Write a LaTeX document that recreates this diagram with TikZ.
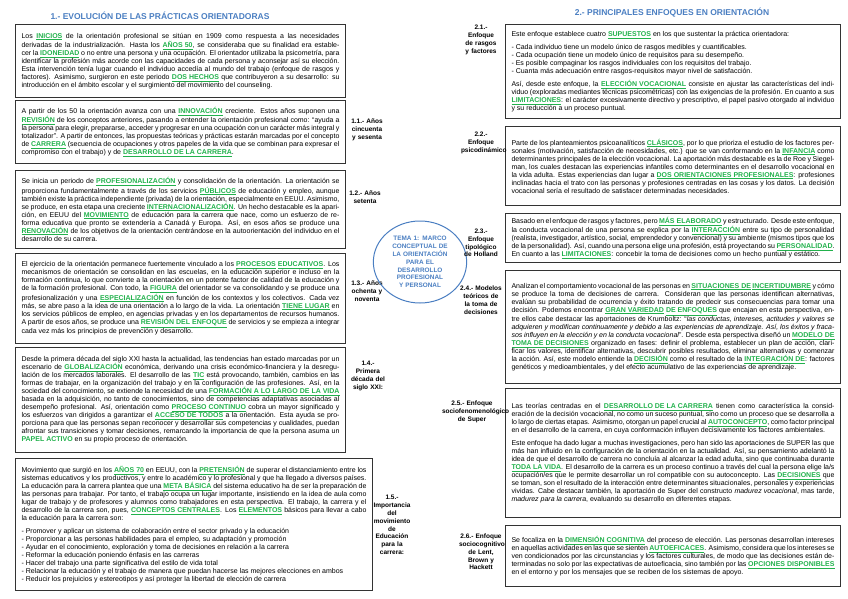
\documentclass[tikz,border=0pt]{standalone}
\usepackage{fontspec}
\setmainfont{Liberation Sans}
\usetikzlibrary{shapes.geometric}
\definecolor{kwg}{RGB}{34,177,76}
\definecolor{ttl}{RGB}{74,126,193}
\newcommand{\kw}[1]{\textcolor{kwg}{\textbf{\underline{#1}}}}
\newcommand{\kn}[1]{\textcolor{kwg}{\textbf{#1}}}
\newcommand{\nohyph}{\hyphenpenalty10000\exhyphenpenalty10000\relax}
\tikzset{
 box/.style={draw=black!80,line width=1pt,anchor=north west,align=justify,inner xsep=6pt,inner ysep=3pt,font=\fontsize{7}{8}\selectfont},
 lbl/.style={align=center,font=\fontsize{6.5}{7.8}\selectfont\bfseries\nohyph,text width=#1},
 lbl/.default=40pt,
 ttlsty/.style={font=\fontsize{8.5}{10}\selectfont\bfseries,text=ttl}
}
\begin{document}
\begin{tikzpicture}[x=1pt,y=-1pt]
\useasboundingbox (0,0) rectangle (848,599);
\node[ttlsty] (t1) at (160,16) {1.- EVOLUCIÓN DE LAS PRÁCTICAS ORIENTADORAS};
\node[ttlsty] (t2) at (672,13) {2.- PRINCIPALES ENFOQUES EN ORIENTACIÓN};

\node[box,text width=318pt,minimum height=73pt] (b1) at (15,24) {Los \kw{INICIOS} de la orientación profesional se sitúan en 1909 como respuesta a las necesidades derivadas de la industrialización. Hasta los \kw{AÑOS 50}, se consideraba que su finalidad era establecer la \kw{IDONEIDAD} o no entre una persona y una ocupación. El orientador utilizaba la psicometría, para identificar la profesión más acorde con las capacidades de cada persona y aconsejar así su elección. Esta intervención tenía lugar cuando el individuo accedía al mundo del trabajo (enfoque de rasgos y factores). Asimismo, surgieron en este periodo \kw{DOS HECHOS} que contribuyeron a su desarrollo: su introducción en el ámbito escolar y el surgimiento del movimiento del counseling.};
\node[box,text width=318pt,minimum height=63pt] (b2) at (15,100) {A partir de los 50 la orientación avanza con una \kw{INNOVACIÓN} creciente. Estos años suponen una \kw{REVISIÓN} de los conceptos anteriores, pasando a entender la orientación profesional como: “ayuda a la persona para elegir, prepararse, acceder y progresar en una ocupación con un carácter más integral y totalizador”. A partir de entonces, las propuestas teóricas y prácticas estarán marcadas por el concepto de \kw{CARRERA} (secuencia de ocupaciones y otros papeles de la vida que se combinan para expresar el compromiso con el trabajo) y de \kw{DESARROLLO DE LA CARRERA}.};
\node[box,text width=318pt,minimum height=78pt] (b3) at (15,170) {Se inicia un periodo de \kw{PROFESIONALIZACIÓN} y consolidación de la orientación. La orientación se proporciona fundamentalmente a través de los servicios \kw{PÚBLICOS} de educación y empleo, aunque también existe la práctica independiente (privada) de la orientación, especialmente en EEUU. Asimismo, se produce, en esta etapa una creciente \kw{INTERNACIONALIZACIÓN}. Un hecho destacable es la aparición, en EEUU del \kw{MOVIMIENTO} de educación para la carrera que nace, como un esfuerzo de reforma educativa que pronto se extendería a Canadá y Europa. Así, en esos años se produce una \kw{RENOVACIÓN} de los objetivos de la orientación centrándose en la autoorientación del individuo en el desarrollo de su carrera.};
\node[box,text width=318pt,minimum height=90pt] (b4) at (15,253) {El ejercicio de la orientación permanece fuertemente vinculado a los \kw{PROCESOS} \kw{EDUCATIVOS}. Los mecanismos de orientación se consolidan en las escuelas, en la educación superior e incluso en la formación continua, lo que convierte a la orientación en un potente factor de calidad de la educación y de la formación profesional. Con todo, la \kw{FIGURA} del orientador se va consolidando y se produce una profesionalización y una \kw{ESPECIALIZACIÓN} en función de los contextos y los colectivos. Cada vez más, se abre paso a la idea de una orientación a lo largo de la vida. La orientación \kw{TIENE LUGAR} en los servicios públicos de empleo, en agencias privadas y en los departamentos de recursos humanos. A partir de esos años, se produce una \kw{REVISIÓN DEL ENFOQUE} de servicios y se empieza a integrar cada vez más los principios de prevención y desarrollo.};
\node[box,text width=318pt,minimum height=105pt] (b5) at (15,347) {Desde la primera década del siglo XXI hasta la actualidad, las tendencias han estado marcadas por un escenario de \kw{GLOBALIZACIÓN} económica, derivando una crisis económico-financiera y la desregulación de los mercados laborales. El desarrollo de las \kw{TIC} está provocando, también, cambios en las formas de trabajar, en la organización del trabajo y en la configuración de las profesiones. Así, en la sociedad del conocimiento, se extiende la necesidad de una \kw{FORMACIÓN A LO LARGO DE LA VIDA} basada en la adquisición, no tanto de conocimientos, sino de competencias adaptativas asociadas al desempeño profesional. Así, orientación como \kw{PROCESO CONTINUO} cobra un mayor significado y los esfuerzos van dirigidos a garantizar el \kw{ACCESO DE TODOS} a la orientación. Esta ayuda se proporciona para que las personas sepan reconocer y desarrollar sus competencias y cualidades, puedan afrontar sus transiciones y tomar decisiones, remarcando la importancia de que la persona asuma un \kn{PAPEL ACTIVO} en su propio proceso de orientación.};
\node[box,text width=345pt,minimum height=132pt] (b6) at (15,458) {Movimiento que surgió en los \kw{AÑOS 70} en EEUU, con la \kw{PRETENSIÓN} de superar el distanciamiento entre los sistemas educativos y los productivos, y entre lo académico y lo profesional y que ha llegado a diversos países. La educación para la carrera plantea que una \kw{META BÁSICA} del sistema educativo ha de ser la preparación de las personas para trabajar. Por tanto, el trabajo ocupa un lugar importante, insistiendo en la idea de aula como lugar de trabajo y de profesores y alumnos como trabajadores en esta perspectiva. El trabajo, la carrera y el desarrollo de la carrera son, pues, \kw{CONCEPTOS CENTRALES}. Los \kw{ELEMENTOS} básicos para llevar a cabo la educación para la carrera son:\par\vspace{5pt}
{\raggedright - Promover y aplicar un sistema de colaboración entre el sector privado y la educación\\
- Proporcionar a las personas habilidades para el empleo, su adaptación y promoción\\
- Ayudar en el conocimiento, exploración y toma de decisiones en relación a la carrera\\
- Reformar la educación poniendo énfasis en las carreras\\
- Hacer del trabajo una parte significativa del estilo de vida total\\
- Relacionar la educación y el trabajo de manera que puedan hacerse las mejores elecciones en ambos\\
- Reducir los prejuicios y estereotipos y así proteger la libertad de elección de carrera\par}};

\node[lbl] (l1) at (367,130) {1.1.- Años cincuenta y sesenta};
\node[lbl] (l2) at (365,197) {1.2.- Años setenta};
\node[lbl] (l3) at (367,291) {1.3.- Años ochenta y noventa};
\node[lbl=34pt] (l4) at (368,376) {1.4.- Primera década del siglo XXI:};
\node[lbl=42pt] (l5) at (392,525) {1.5.- Importancia del movimiento de Educación para la carrera:};

\node[ellipse,draw=ttl,line width=1pt,minimum width=88pt,minimum height=82pt,align=center,text width=66pt,inner sep=0pt,text=ttl,font=\fontsize{6.4}{7.8}\selectfont\bfseries\nohyph] (c) at (420,262) {TEMA 1: MARCO CONCEPTUAL DE LA ORIENTACIÓN PARA EL DESARROLLO PROFESIONAL Y PERSONAL};

\node[box,text width=323pt,minimum height=94pt] (r1) at (505,24) {Este enfoque establece cuatro \kw{SUPUESTOS} en los que sustentar la práctica orientadora:\par\vspace{5pt}
{\raggedright - Cada individuo tiene un modelo único de rasgos medibles y cuantificables.\\
- Cada ocupación tiene un modelo único de requisitos para su desempeño.\\
- Es posible compaginar los rasgos individuales con los requisitos del trabajo.\\
- Cuanta más adecuación entre rasgos-requisitos mayor nivel de satisfacción.\par}\vspace{5pt}
Así, desde este enfoque, la \kw{ELECCIÓN VOCACIONAL} consiste en ajustar las características del individuo (exploradas mediantes técnicas psicométricas) con las exigencias de la profesión. En cuanto a sus \kw{LIMITACIONES}: el carácter excesivamente directivo y prescriptivo, el papel pasivo otorgado al individuo y su reducción a un proceso puntual.};
\node[box,text width=323pt,minimum height=79pt] (r2) at (505,126) {Parte de los planteamientos psicoanalíticos \kw{CLÁSICOS}, por lo que prioriza el estudio de los factores personales (motivación, satisfacción de necesidades, etc.) que se van conformando en la \kw{INFANCIA} como determinantes principales de la elección vocacional. La aportación más destacable es la de Roe y Siegelman, los cuales destacan las experiencias infantiles como determinantes en el desarrollo vocacional en la vida adulta. Estas experiencias dan lugar a \kw{DOS ORIENTACIONES PROFESIONALES}: profesiones inclinadas hacia el trato con las personas y profesiones centradas en las cosas y los datos. La decisión vocacional sería el resultado de satisfacer determinadas necesidades.};
\node[box,text width=323pt,minimum height=49pt] (r3) at (505,213) {Basado en el enfoque de rasgos y factores, pero \kw{MÁS ELABORADO} y estructurado. Desde este enfoque, la conducta vocacional de una persona se explica por la \kw{INTERACCIÓN} entre su tipo de personalidad (realista, investigador, artístico, social, emprendedor y convencional) y su ambiente (mismos tipos que los de la personalidad). Así, cuando una persona elige una profesión, está proyectando su \kw{PERSONALIDAD}. En cuanto a las \kw{LIMITACIONES}: concebir la toma de decisiones como un hecho puntual y estático.};
\node[box,text width=323pt,minimum height=113pt] (r4) at (505,270) {Analizan el comportamiento vocacional de las personas en \kw{SITUACIONES DE} \kw{INCERTIDUMBRE} y cómo se produce la toma de decisiones de carrera. Consideran que las personas identifican alternativas, evalúan su probabilidad de ocurrencia y éxito tratando de predecir sus consecuencias para tomar una decisión. Podemos encontrar \kw{GRAN VARIEDAD} \kw{DE ENFOQUES} que encajan en esta perspectiva, entre ellos cabe destacar las aportaciones de Krumboltz: “\textit{las conductas, intereses, actitudes y valores se adquieren y modifican continuamente y debido a las experiencias de aprendizaje. Así, los éxitos y fracasos influyen en la elección y en la conducta vocacional}”. Desde esta perspectiva diseñó un \kw{MODELO DE} \kw{TOMA DE DECISIONES} organizado en fases: definir el problema, establecer un plan de acción, clarificar los valores, identificar alternativas, descubrir posibles resultados, eliminar alternativas y comenzar la acción. Así, este modelo entiende la \kw{DECISIÓN} como el resultado de la \kw{INTEGRACIÓN DE}: factores genéticos y medioambientales, y del efecto acumulativo de las experiencias de aprendizaje.};
\node[box,text width=323pt,minimum height=129pt] (r5) at (505,388) {Las teorías centradas en el \kw{DESARROLLO DE LA CARRERA} tienen como característica la consideración de la decisión vocacional, no como un suceso puntual, sino como un proceso que se desarrolla a lo largo de ciertas etapas. Asimismo, otorgan un papel crucial al \kw{AUTOCONCEPTO}, como factor principal en el desarrollo de la carrera, en cuya conformación influyen decisivamente los factores ambientales.\par\vspace{5pt}
Este enfoque ha dado lugar a muchas investigaciones, pero han sido las aportaciones de SUPER las que más han influido en la configuración de la orientación en la actualidad. Así, su pensamiento adelantó la idea de que el desarrollo de carrera no concluía al alcanzar la edad adulta, sino que continuaba durante \kw{TODA LA VIDA}. El desarrollo de la carrera es un proceso continuo a través del cual la persona elige la/s ocupación/es que le permite desarrollar un rol compatible con su autoconcepto. Las \kw{DECISIONES} que se toman, son el resultado de la interacción entre determinantes situacionales, personales y experiencias vividas. Cabe destacar también, la aportación de Super del constructo \textit{madurez vocacional}, mas tarde, \textit{madurez para la carrera}, evaluando su desarrollo en diferentes etapas.};
\node[box,text width=323pt,minimum height=61pt] (r6) at (505,525) {Se focaliza en la \kw{DIMENSIÓN COGNITIVA} del proceso de elección. Las personas desarrollan intereses en aquellas actividades en las que se sienten \kw{AUTOEFICACES}. Asimismo, considera que los intereses se ven condicionados por las circunstancias y los factores culturales, de modo que las decisiones están determinadas no solo por las expectativas de autoeficacia, sino también por las \kw{OPCIONES DISPONIBLES} en el entorno y por los mensajes que se reciben de los sistemas de apoyo.};

\node[lbl] (m1) at (481,40) {2.1.- Enfoque de rasgos y factores};
\node[lbl] (m2) at (481,143) {2.2.- Enfoque psicodinámico};
\node[lbl] (m3) at (481,243) {2.3.- Enfoque tipológico de Holland};
\node[lbl=42pt] (m4) at (481,300) {2.4.- Modelos teóricos de la toma de decisiones};
\node[lbl=60pt] (m5) at (472,412) {2.5.- Enfoque sociofenomenológico de Super};
\node[lbl=44pt] (m6) at (481,552) {2.6.- Enfoque sociocognitivo de Lent, Brown y Hackett};
\end{tikzpicture}
\end{document}
